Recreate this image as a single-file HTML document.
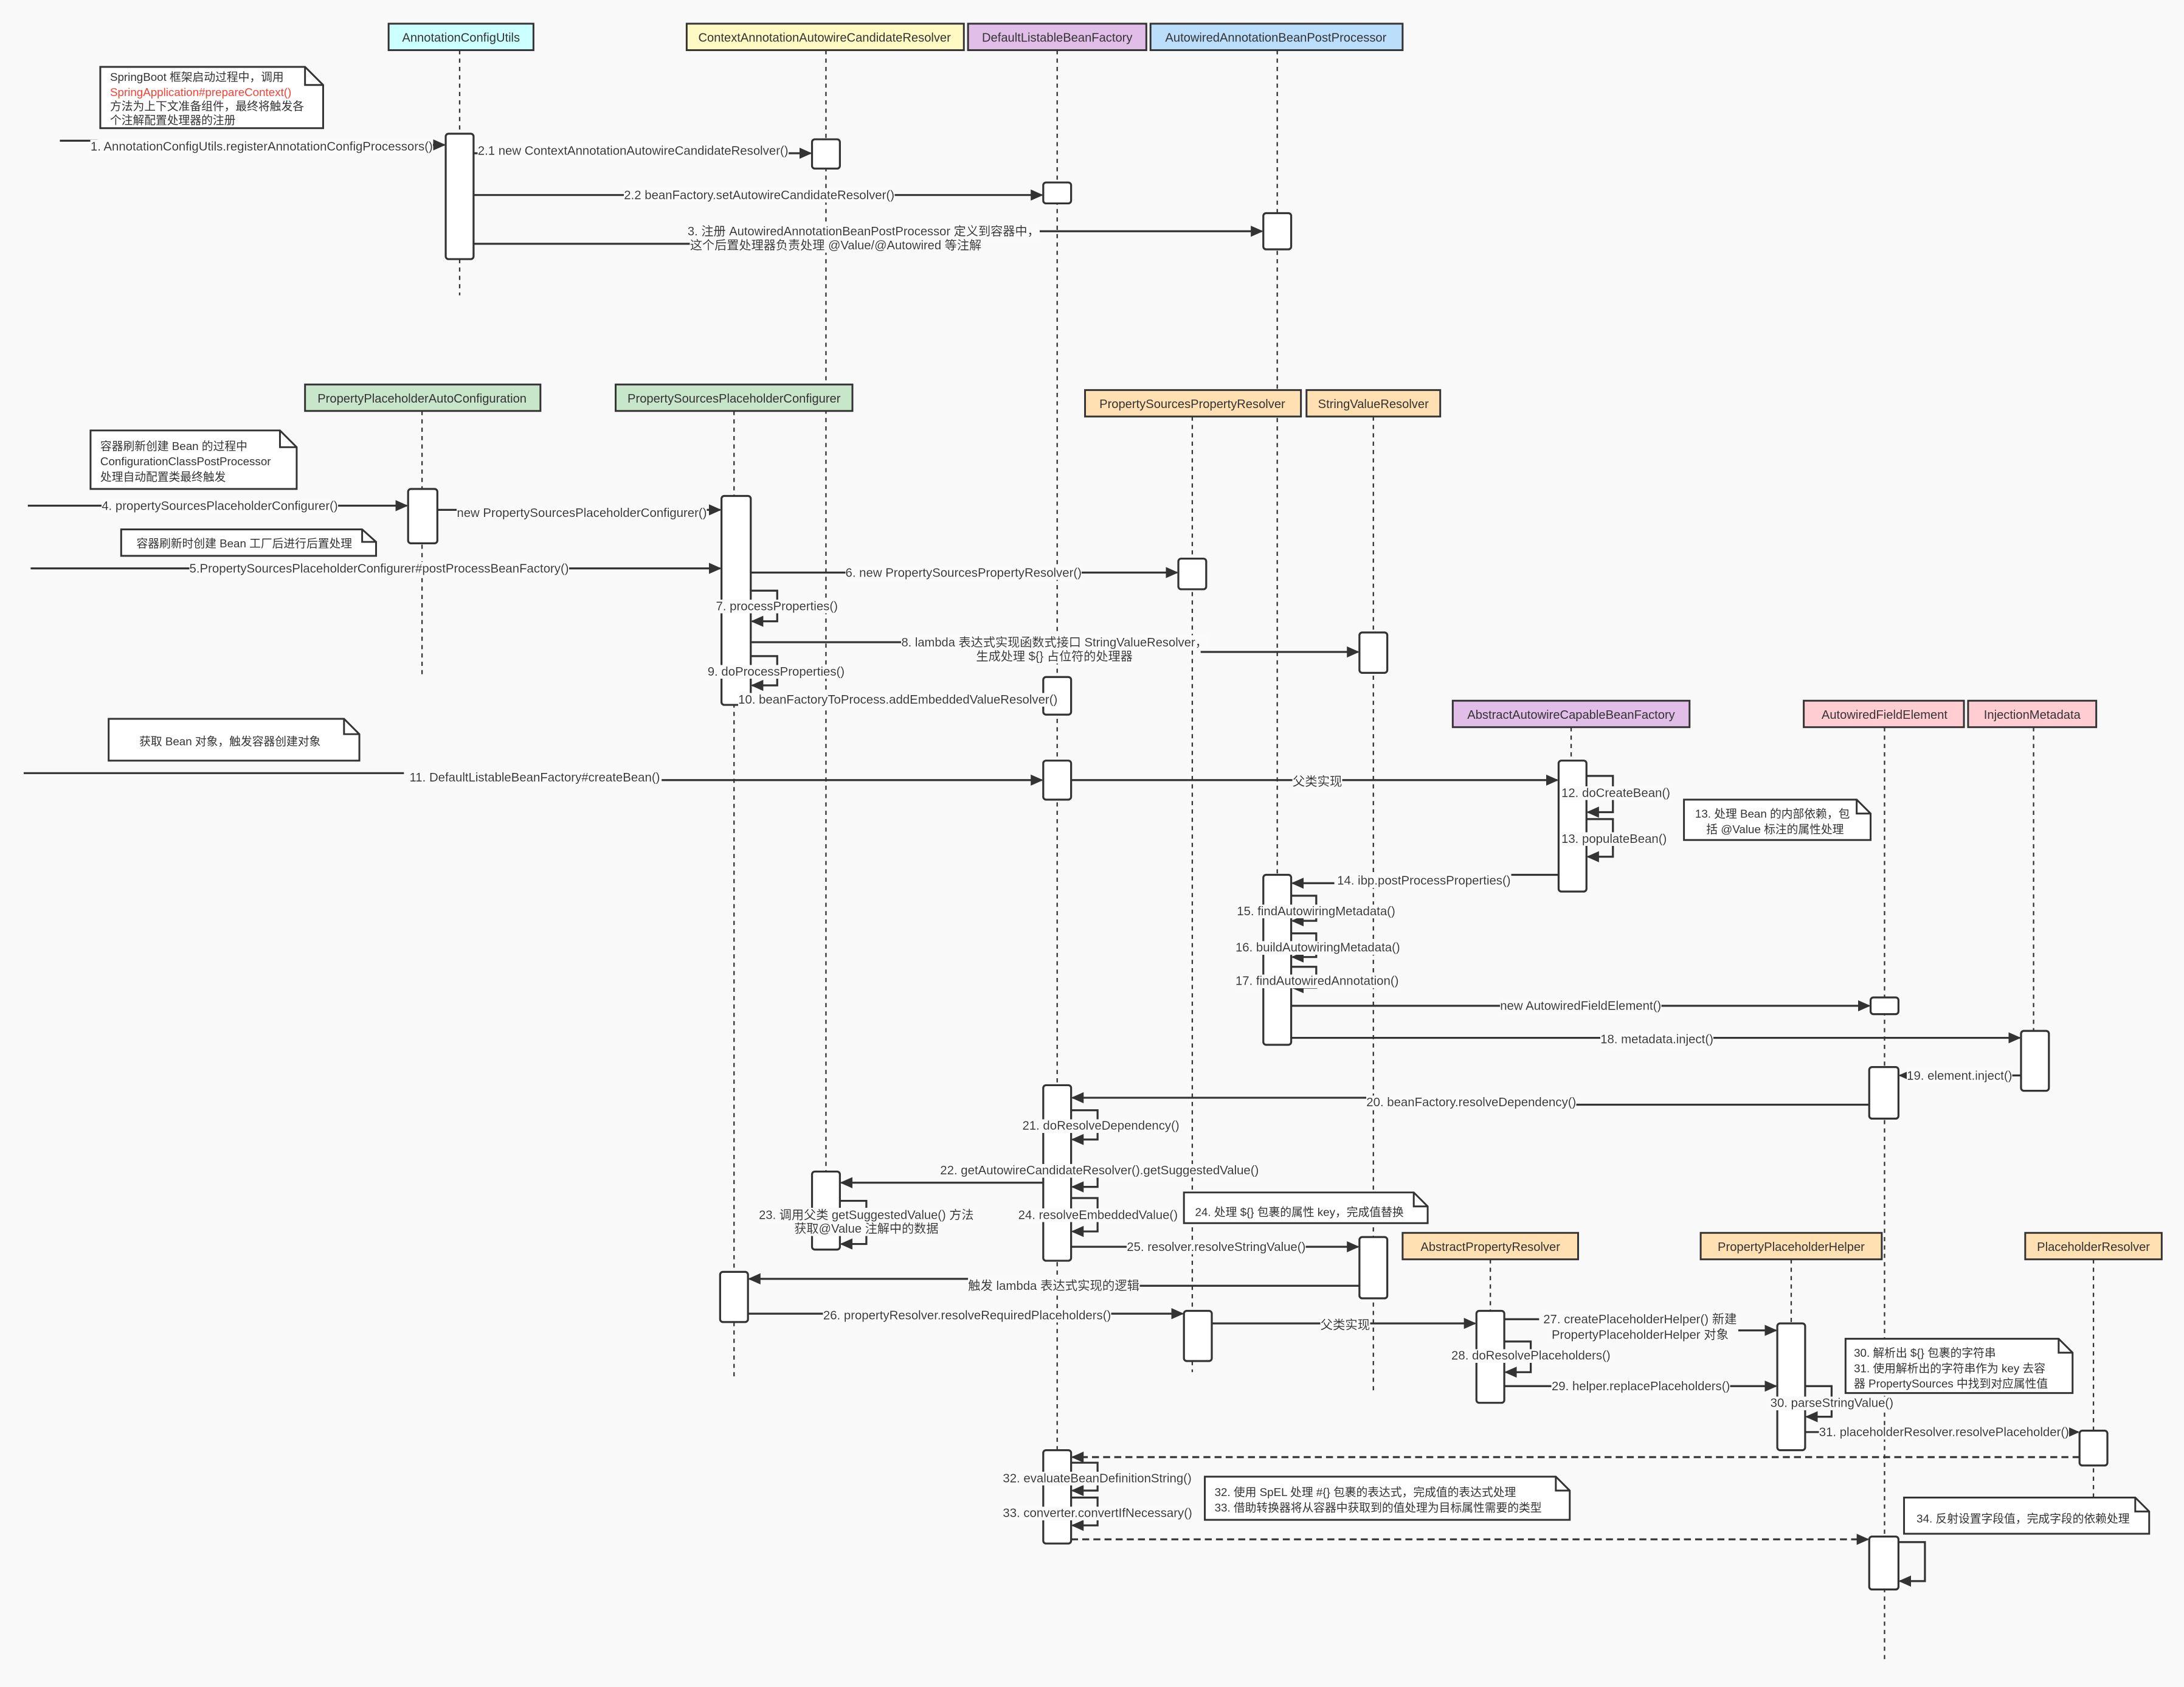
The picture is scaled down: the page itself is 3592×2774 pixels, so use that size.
<!DOCTYPE html>
<html><head><meta charset="utf-8"><style>
html,body{margin:0;padding:0;background:#f9f9f9}
svg{display:block}
text{font-family:"Liberation Sans","Noto Sans CJK SC",sans-serif;font-size:8.2px;fill:#333}
.lb{filter:url(#bg);font-size:8.9px}
.h{font-size:8.8px;text-anchor:middle}
.ll{stroke:#333;stroke-width:1;stroke-dasharray:3 3;fill:none}
.act{fill:#fff;stroke:#333;stroke-width:1.4}
.m{stroke:#333;stroke-width:1.4;fill:none;marker-end:url(#a)}
.d{stroke:#333;stroke-width:1.4;fill:none;stroke-dasharray:5 3;marker-end:url(#a)}
.n{fill:#fff;stroke:#333;stroke-width:1.3}
</style></head><body>
<svg width="3592" height="2774" viewBox="0 0 1568 1211" preserveAspectRatio="none" xmlns="http://www.w3.org/2000/svg">
<defs><marker id="a" markerWidth="10" markerHeight="10" refX="8" refY="4" orient="auto" markerUnits="userSpaceOnUse"><path d="M0,0 L9,4 L0,8 z" fill="#333"/></marker>
<filter id="bg" x="0" y="0" width="1" height="1"><feFlood flood-color="#fafafa"/><feComposite in="SourceGraphic"/></filter></defs>
<rect width="1568" height="1211" fill="#f9f9f9"/>

<line class="ll" x1="330" y1="36" x2="330" y2="212"/>
<line class="ll" x1="593" y1="36" x2="593" y2="900"/>
<line class="ll" x1="759" y1="36" x2="759" y2="1110"/>
<line class="ll" x1="917" y1="36" x2="917" y2="750"/>
<line class="ll" x1="303" y1="295" x2="303" y2="485"/>
<line class="ll" x1="527" y1="295" x2="527" y2="988"/>
<line class="ll" x1="856" y1="299" x2="856" y2="985"/>
<line class="ll" x1="986" y1="299" x2="986" y2="1000"/>
<line class="ll" x1="1128" y1="522" x2="1128" y2="640"/>
<line class="ll" x1="1353" y1="522" x2="1353" y2="1192"/>
<line class="ll" x1="1460" y1="522" x2="1460" y2="783"/>
<line class="ll" x1="1070" y1="904" x2="1070" y2="1007"/>
<line class="ll" x1="1286" y1="904" x2="1286" y2="1041"/>
<line class="ll" x1="1503" y1="904" x2="1503" y2="1075"/>

<g stroke="#333" stroke-width="1.3">
<rect x="279" y="17" width="104" height="19" fill="#ccffff"/>
<rect x="493" y="17" width="199" height="19" fill="#fff9c4"/>
<rect x="695" y="17" width="128" height="19" fill="#e1bee7"/>
<rect x="826" y="17" width="181" height="19" fill="#bbdefb"/>
<rect x="219" y="276" width="169" height="19" fill="#c8e6c9"/>
<rect x="442" y="276" width="170" height="19" fill="#c8e6c9"/>
<rect x="779" y="280" width="155" height="19" fill="#ffe0b2"/>
<rect x="938" y="280" width="96" height="19" fill="#ffe0b2"/>
<rect x="1043" y="503" width="170" height="19" fill="#e1bee7"/>
<rect x="1295" y="503" width="115" height="19" fill="#ffcdd2"/>
<rect x="1413" y="503" width="92" height="19" fill="#ffcdd2"/>
<rect x="1007" y="885" width="126" height="19" fill="#ffe0b2"/>
<rect x="1221" y="885" width="130" height="19" fill="#ffe0b2"/>
<rect x="1454" y="885" width="98" height="19" fill="#ffe0b2"/>
</g>
<text class="h" x="331" y="30">AnnotationConfigUtils</text>
<text class="h" x="592" y="30">ContextAnnotationAutowireCandidateResolver</text>
<text class="h" x="759" y="30">DefaultListableBeanFactory</text>
<text class="h" x="916" y="30">AutowiredAnnotationBeanPostProcessor</text>
<text class="h" x="303" y="289">PropertyPlaceholderAutoConfiguration</text>
<text class="h" x="527" y="289">PropertySourcesPlaceholderConfigurer</text>
<text class="h" x="856" y="293">PropertySourcesPropertyResolver</text>
<text class="h" x="986" y="293">StringValueResolver</text>
<text class="h" x="1128" y="516">AbstractAutowireCapableBeanFactory</text>
<text class="h" x="1353" y="516">AutowiredFieldElement</text>
<text class="h" x="1459" y="516">InjectionMetadata</text>
<text class="h" x="1070" y="898">AbstractPropertyResolver</text>
<text class="h" x="1286" y="898">PropertyPlaceholderHelper</text>
<text class="h" x="1503" y="898">PlaceholderResolver</text>

<path class="n" d="M72,48 H219 L232,61 V92 H72 Z"/><path d="M219,48 V61 H232" fill="none" stroke="#333" stroke-width="1.3"/>
<text x="79" y="58">SpringBoot 框架启动过程中，调用</text>
<text x="79" y="69" style="fill:#f44336">SpringApplication#prepareContext()</text>
<text x="79" y="79">方法为上下文准备组件，最终将触发各</text>
<text x="79" y="89">个注解配置处理器的注册</text>

<path class="n" d="M65,309 H201 L213,321 V351 H65 Z"/><path d="M201,309 V321 H213" fill="none" stroke="#333" stroke-width="1.3"/>
<text x="72" y="323">容器刷新创建 Bean 的过程中</text>
<text x="72" y="334">ConfigurationClassPostProcessor</text>
<text x="72" y="345">处理自动配置类最终触发</text>

<path class="n" d="M87,380 H260 L270,389 V399 H87 Z"/><path d="M260,380 V389 H270" fill="none" stroke="#333" stroke-width="1.3"/>
<text x="98" y="393">容器刷新时创建 Bean 工厂后进行后置处理</text>

<path class="n" d="M78,516 H247 L258,527 V546 H78 Z"/><path d="M247,516 V527 H258" fill="none" stroke="#333" stroke-width="1.3"/>
<text x="100" y="535">获取 Bean 对象，触发容器创建对象</text>

<path class="n" d="M1209,574 H1333 L1343,584 V603 H1209 Z"/><path d="M1333,574 V584 H1343" fill="none" stroke="#333" stroke-width="1.3"/>
<text x="1217" y="587">13. 处理 Bean 的内部依赖，包</text>
<text x="1225" y="598">括 @Value 标注的属性处理</text>

<path class="n" d="M850,856 H1015 L1025,866 V878 H850 Z"/><path d="M1015,856 V866 H1025" fill="none" stroke="#333" stroke-width="1.3"/>
<text x="858" y="873">24. 处理 ${} 包裹的属性 key，完成值替换</text>

<path class="n" d="M1325,961 H1478 L1488,971 V1000 H1325 Z"/><path d="M1478,961 V971 H1488" fill="none" stroke="#333" stroke-width="1.3"/>
<text x="1331" y="974">30. 解析出 ${} 包裹的字符串</text>
<text x="1331" y="985">31. 使用解析出的字符串作为 key 去容</text>
<text x="1331" y="996">器 PropertySources 中找到对应属性值</text>

<path class="n" d="M865,1060 H1117 L1127,1070 V1091 H865 Z"/><path d="M1117,1060 V1070 H1127" fill="none" stroke="#333" stroke-width="1.3"/>
<text x="872" y="1074">32. 使用 SpEL 处理 #{} 包裹的表达式，完成值的表达式处理</text>
<text x="872" y="1085">33. 借助转换器将从容器中获取到的值处理为目标属性需要的类型</text>

<path class="n" d="M1367,1075 H1533 L1543,1085 V1101 H1367 Z"/><path d="M1533,1075 V1085 H1543" fill="none" stroke="#333" stroke-width="1.3"/>
<text x="1376" y="1093">34. 反射设置字段值，完成字段的依赖处理</text>

<rect class="act" x="320" y="96" width="20" height="90" rx="2"/>
<rect class="act" x="583" y="100" width="20" height="21" rx="2"/>
<rect class="act" x="749" y="131" width="20" height="15" rx="2"/>
<rect class="act" x="907" y="153" width="20" height="26" rx="2"/>
<rect class="act" x="293" y="351" width="21" height="39" rx="2"/>
<rect class="act" x="518" y="356" width="21" height="150" rx="2"/>
<rect class="act" x="846" y="401" width="20" height="22" rx="2"/>
<rect class="act" x="976" y="454" width="20" height="29" rx="2"/>
<rect class="act" x="749" y="486" width="20" height="27" rx="2"/>
<rect class="act" x="749" y="546" width="20" height="28" rx="2"/>
<rect class="act" x="1119" y="546" width="20" height="94" rx="2"/>
<rect class="act" x="907" y="628" width="20" height="122" rx="2"/>
<rect class="act" x="1343" y="716" width="20" height="12" rx="2"/>
<rect class="act" x="1451" y="740" width="20" height="43" rx="2"/>
<rect class="act" x="1342" y="766" width="21" height="37" rx="2"/>
<rect class="act" x="749" y="779" width="20" height="126" rx="2"/>
<rect class="act" x="583" y="841" width="20" height="56" rx="2"/>
<rect class="act" x="976" y="888" width="20" height="44" rx="2"/>
<rect class="act" x="517" y="913" width="20" height="36" rx="2"/>
<rect class="act" x="850" y="941" width="20" height="36" rx="2"/>
<rect class="act" x="1060" y="941" width="20" height="66" rx="2"/>
<rect class="act" x="1276" y="950" width="20" height="91" rx="2"/>
<rect class="act" x="1493" y="1027" width="20" height="25" rx="2"/>
<rect class="act" x="749" y="1041" width="20" height="67" rx="2"/>
<rect class="act" x="1342" y="1103" width="21" height="38" rx="2"/>

<path class="m" d="M43,101 H70 M70,104 H319"/>
<text class="lb" x="65" y="108">1. AnnotationConfigUtils.registerAnnotationConfigProcessors()</text>
<path class="m" d="M340,110 H582"/>
<text class="lb" x="343" y="111">2.1 new ContextAnnotationAutowireCandidateResolver()</text>
<path class="m" d="M340,140 H748"/>
<text class="lb" x="448" y="143">2.2 beanFactory.setAutowireCandidateResolver()</text>
<path class="m" d="M340,175 H500 M740,166 H906"/>
<text class="lb h" x="620" y="169">3. 注册 AutowiredAnnotationBeanPostProcessor 定义到容器中，</text>
<text class="lb h" x="600" y="179">这个后置处理器负责处理 @Value/@Autowired 等注解</text>

<path class="m" d="M20,363 H292"/>
<text class="lb" x="73" y="366">4. propertySourcesPlaceholderConfigurer()</text>
<path class="m" d="M314,366 H517"/>
<text class="lb" x="328" y="371">new PropertySourcesPlaceholderConfigurer()</text>
<path class="m" d="M22,408 H517"/>
<text class="lb" x="136" y="411">5.PropertySourcesPlaceholderConfigurer#postProcessBeanFactory()</text>
<path class="m" d="M539,411 H845"/>
<text class="lb" x="607" y="414">6. new PropertySourcesPropertyResolver()</text>
<path class="m" d="M539,424 H558 V446 H540"/>
<text class="lb" x="514" y="438">7. processProperties()</text>
<path class="m" d="M539,461 H650 M862,468 H975"/>
<text class="lb h" x="757" y="464">8. lambda 表达式实现函数式接口 StringValueResolver，</text>
<text class="lb h" x="757" y="474">生成处理 ${} 占位符的处理器</text>
<path class="m" d="M539,471 H558 V492 H540"/>
<text class="lb" x="508" y="485">9. doProcessProperties()</text>
<path class="m" d="M539,502 H748"/>
<text class="lb" x="530" y="505">10. beanFactoryToProcess.addEmbeddedValueResolver()</text>

<path class="m" d="M17,555 H290 M475,560 H748"/>
<text class="lb" x="294" y="561">11. DefaultListableBeanFactory#createBean()</text>
<path class="m" d="M769,560 H1118"/>
<text class="lb" x="928" y="564">父类实现</text>
<path class="m" d="M1139,557 H1158 V583 H1140"/>
<text class="lb" x="1121" y="572">12. doCreateBean()</text>
<path class="m" d="M1139,588 H1158 V615 H1140"/>
<text class="lb" x="1121" y="605">13. populateBean()</text>
<path class="m" d="M1119,628 H1085 M958,634 H928"/>
<text class="lb" x="960" y="635">14. ibp.postProcessProperties()</text>
<path class="m" d="M927,643 H945 V661 H928"/>
<text class="lb" x="888" y="657">15. findAutowiringMetadata()</text>
<path class="m" d="M927,670 H945 V687 H928"/>
<text class="lb" x="887" y="683">16. buildAutowiringMetadata()</text>
<path class="m" d="M927,694 H945 V709 H928"/>
<text class="lb" x="887" y="707">17. findAutowiredAnnotation()</text>
<path class="m" d="M927,722 H1342"/>
<text class="lb" x="1077" y="725">new AutowiredFieldElement()</text>
<path class="m" d="M927,745 H1450"/>
<text class="lb" x="1149" y="749">18. metadata.inject()</text>
<path class="m" d="M1451,772 H1364"/>
<text class="lb" x="1369" y="775">19. element.inject()</text>
<path class="m" d="M1342,793 H1130 M985,788 H770"/>
<text class="lb" x="981" y="794">20. beanFactory.resolveDependency()</text>
<path class="m" d="M769,797 H788 V818 H770"/>
<text class="lb" x="734" y="811">21. doResolveDependency()</text>
<path class="m" d="M769,839 H788 V852 H770"/>
<path class="m" d="M749,849 H604"/>
<text class="lb" x="675" y="843">22. getAutowireCandidateResolver().getSuggestedValue()</text>
<path class="m" d="M603,862 H622 V893 H604"/>
<text class="lb h" x="622" y="875">23. 调用父类 getSuggestedValue() 方法</text>
<text class="lb h" x="622" y="885">获取@Value 注解中的数据</text>
<path class="m" d="M769,860 H788 V884 H770"/>
<text class="lb" x="731" y="875">24. resolveEmbeddedValue()</text>
<path class="m" d="M769,895 H975"/>
<text class="lb" x="809" y="898">25. resolver.resolveStringValue()</text>
<path class="m" d="M976,923 H815 M695,918 H538"/>
<text class="lb" x="695" y="926">触发 lambda 表达式实现的逻辑</text>
<path class="m" d="M537,943 H849"/>
<text class="lb" x="591" y="947">26. propertyResolver.resolveRequiredPlaceholders()</text>
<path class="m" d="M870,950 H1059"/>
<text class="lb" x="948" y="954">父类实现</text>
<path class="m" d="M1080,947 H1105 M1248,955 H1275"/>
<text class="lb" x="1108" y="950">27. createPlaceholderHelper() 新建</text>
<text class="lb" x="1114" y="961">PropertyPlaceholderHelper 对象</text>
<path class="m" d="M1080,963 H1099 V985 H1081"/>
<text class="lb" x="1042" y="976">28. doResolvePlaceholders()</text>
<path class="m" d="M1080,995 H1275"/>
<text class="lb" x="1114" y="998">29. helper.replacePlaceholders()</text>
<path class="m" d="M1296,995 H1315 V1017 H1297"/>
<text class="lb" x="1271" y="1010">30. parseStringValue()</text>
<path class="m" d="M1296,1028 H1492"/>
<text class="lb" x="1306" y="1031">31. placeholderResolver.resolvePlaceholder()</text>
<path class="d" d="M1493,1046 H770"/>
<path class="m" d="M769,1050 H788 V1070 H770"/>
<text class="lb" x="720" y="1064">32. evaluateBeanDefinitionString()</text>
<path class="m" d="M769,1075 H788 V1095 H770"/>
<text class="lb" x="720" y="1089">33. converter.convertIfNecessary()</text>
<path class="d" d="M769,1105 H1341"/>
<path class="m" d="M1363,1107 H1382 V1135 H1364"/>
</svg>
</body></html>
